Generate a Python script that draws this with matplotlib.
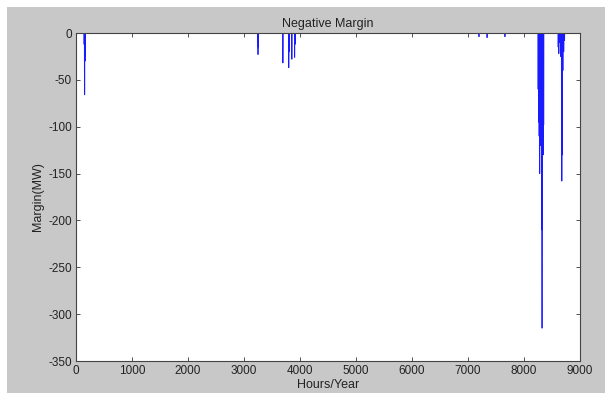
import matplotlib
import numpy as np

matplotlib.use("Agg")
import matplotlib.pyplot as plt
from matplotlib.patches import Rectangle

# hourly margin is zero except for these shortfall events (hour, MW)
event_hours = [
    145, 150, 155, 160, 165,
    3245, 3250, 3256,
    3695, 3800, 3806, 3855, 3905, 3912,
    7196, 7340, 7660,
    8252, 8258, 8263, 8270, 8276, 8281, 8287, 8293, 8299,
    8305, 8311, 8316, 8322, 8328, 8334, 8340, 8346, 8352,
    8610, 8622, 8640, 8655, 8668, 8676, 8684, 8695, 8710, 8725,
]
event_margin = [
    -12, -40, -66, -30, -8,
    -10, -23, -15,
    -32, -37, -20, -28, -26, -12,
    -4, -5, -4,
    -60, -95, -80, -110, -98, -150, -100, -120, -95,
    -105, -98, -210, -315, -160, -100, -90, -130, -98,
    -15, -22, -10, -25, -60, -158, -130, -40, -20, -8,
]

hours = np.arange(1, 8761)
margin = np.zeros(len(hours))
margin[np.array(event_hours) - 1] = event_margin

plt.rcParams["font.family"] = ["Liberation Sans", "DejaVu Sans"]
plt.rcParams["axes.unicode_minus"] = False

fig = plt.figure(figsize=(6.11, 3.93), dpi=100, facecolor="white")
fig.patches.append(Rectangle((7 / 611, 0), 598 / 611, 386 / 393,
                             transform=fig.transFigure, facecolor="#c8c8c8",
                             edgecolor="none", zorder=-10))

ax = fig.add_axes([76 / 611, 32 / 393, 504 / 611, 328 / 393])
ax.set_facecolor("white")
ax.plot(hours, margin, color="#1a1aff", linewidth=0.6)

ax.set_xlim(0, 9000)
ax.set_ylim(-350, 0)
ax.set_xticks(range(0, 9001, 1000))
ax.set_yticks(range(-350, 1, 50))
ax.tick_params(direction="in", length=3, width=0.6, labelsize=8.5, pad=3,
               top=True, right=True, colors="#333333", labelcolor="#222222")
for s in ax.spines.values():
    s.set_linewidth(0.8)
    s.set_color("#444444")

ax.set_title("Negative Margin", fontsize=9, pad=4, color="#222222")
ax.set_xlabel("Hours/Year", fontsize=9, labelpad=1, color="#222222")
ax.set_ylabel("Margin(MW)", fontsize=9, labelpad=3, color="#222222")

fig.savefig("out.png", dpi=100, facecolor=fig.get_facecolor())
plt.close(fig)
